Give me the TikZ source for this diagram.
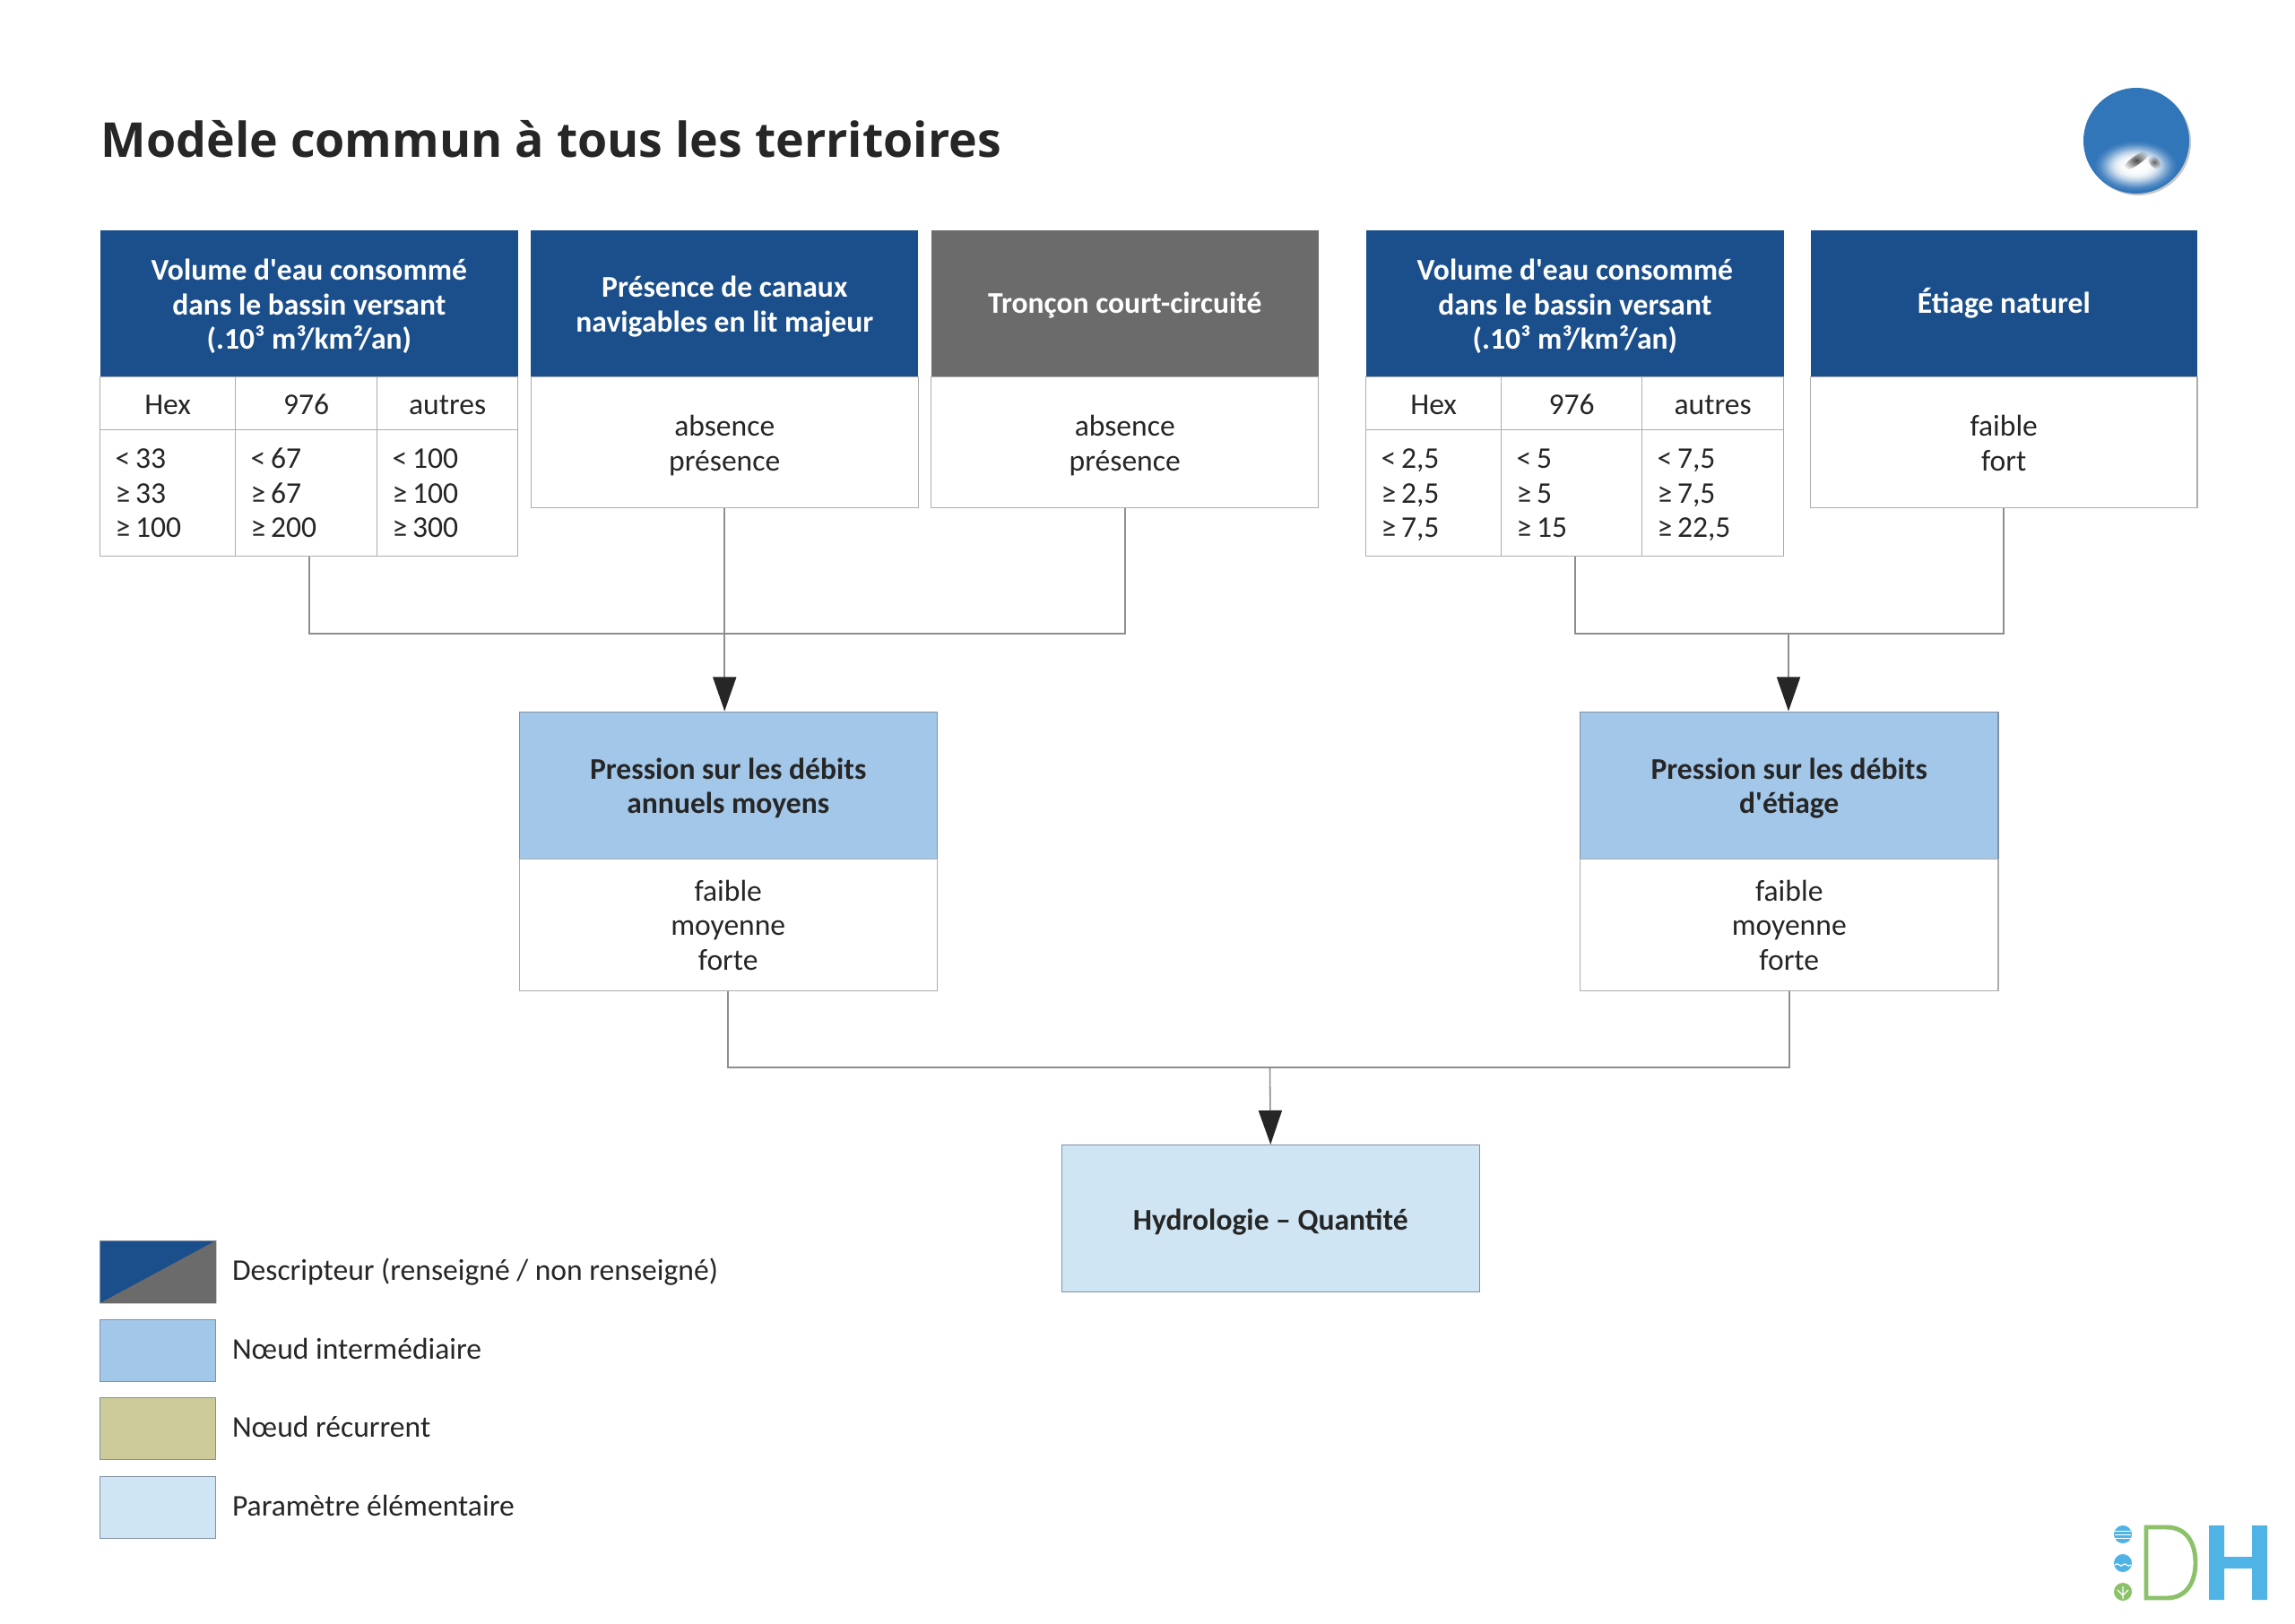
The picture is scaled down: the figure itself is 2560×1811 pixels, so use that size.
\documentclass[tikz,border=0pt]{standalone}
\usepackage{fontspec}
\setmainfont{Carlito}[Ligatures=TeXOff]
\newfontfamily\titlefont{Open Sans}
\usetikzlibrary{arrows.meta, positioning, calc, fadings}
\definecolor{descc}{HTML}{1B4F8B}
\definecolor{nonc}{HTML}{6B6B6B}
\definecolor{interc}{HTML}{A2C7E9}
\definecolor{recc}{HTML}{CDCB9A}
\definecolor{paramc}{HTML}{D0E5F3}
\definecolor{linec}{HTML}{8E8E8E}
\definecolor{cellc}{HTML}{ADADAD}
\definecolor{edgec}{HTML}{7F92A6}
\definecolor{txtc}{HTML}{262626}
\definecolor{discc}{HTML}{3276BA}
\definecolor{greenc}{HTML}{8BC169}
\definecolor{cyanc}{HTML}{4FB3E6}
\tikzfading[name=softblob, inner color=transparent!0, outer color=transparent!100]
\newcommand{\topstr}[1]{\rule{0pt}{#1}}
\newcommand{\botstr}[1]{\rule[-#1]{0pt}{#1}}
\newcommand{\fl}{\rule{0pt}{9.8pt}}

\begin{document}
\begin{tikzpicture}[x=0.01cm, y=-0.01cm, text=txtc,
          font=\fontsize{9.55}{10.95}\selectfont,
          >={Stealth[length=0.38cm, width=0.26cm, inset=0pt, color=txtc]},
          st/.style={execute at begin node=\topstr{10pt}, execute at end node=\botstr{2.84pt}},
          up/.style={execute at end node=\botstr{3.74pt}},
          hd/.style={st, rectangle, anchor=north west, fill=#1, minimum height=1.64cm, inner sep=0pt, align=center, text=white, font=\fontsize{9.55}{10.95}\selectfont\bfseries},
          body/.style={st, rectangle, anchor=north west, draw=cellc, fill=white, line width=0.35pt, minimum height=#1, inner sep=0pt, align=center},
          chead/.style={st, rectangle, anchor=north west, draw=cellc, line width=0.35pt, minimum height=0.59cm, inner sep=0pt},
          cval/.style={rectangle, anchor=north west, draw=cellc, line width=0.35pt, minimum height=1.41cm, inner xsep=0.17cm, inner ysep=0pt, text width=#1, align=left, execute at begin node={\spaceskip=0.17em\topstr{10pt}}, execute at end node=\botstr{3.76pt}},
          nd/.style={st, rectangle, anchor=north west, draw=edgec, fill=#1, line width=0.35pt, minimum width=4.66cm, minimum height=1.64cm, inner sep=0pt, align=center, font=\fontsize{9.55}{10.95}\selectfont\bfseries},
          sw/.style={rectangle, anchor=north west, draw=edgec, fill=#1, line width=0.35pt, minimum width=1.29cm, minimum height=0.69cm, inner sep=0pt},
          ln/.style={linec, line width=0.45pt},
          ar/.style={->, linec, line width=0.45pt}]
        \useasboundingbox (1,0) rectangle (2561,1811);
        \node[anchor=base west, inner sep=0pt, font=\titlefont\fontsize{15.26}{20}\selectfont\bfseries] (titre) at (113,175) {Modèle commun à tous les territoires};

        \node[hd=descc, minimum width=4.66cm] (vol1) at (112,256) {\fl Volume d'eau consommé\\dans le bassin versant\\(.10³ m³/km²/an)};
        \node[chead, minimum width=1.51cm] (hex1) at (112,420) {Hex};
        \node[chead, minimum width=1.58cm] (dom1) at (263,420) {976};
        \node[chead, minimum width=1.57cm] (aut1) at (421,420) {autres};
        \node[cval=1.17cm] (vhex1) at (112,479) {< 33\\≥ 33\\≥ 100};
        \node[cval=1.24cm] (vdom1) at (263,479) {< 67\\≥ 67\\≥ 200};
        \node[cval=1.23cm] (vaut1) at (421,479) {< 100\\≥ 100\\≥ 300};

        \node[hd=descc, minimum width=4.32cm] (can) at (592.5,256) {\fl Présence de canaux\\navigables en lit majeur};
        \node[body=1.46cm, minimum width=4.32cm] (vcan) at (592.5,420) {\fl absence\\présence};
        \node[hd=nonc, up, minimum width=4.32cm] (tron) at (1039,256) {Tronçon court-circuité};
        \node[body=1.46cm, minimum width=4.32cm] (vtron) at (1039,420) {\fl absence\\présence};

        \node[hd=descc, minimum width=4.66cm] (vol2) at (1524,256) {\fl Volume d'eau consommé\\dans le bassin versant\\(.10³ m³/km²/an)};
        \node[chead, minimum width=1.51cm] (hex2) at (1524,420) {Hex};
        \node[chead, minimum width=1.57cm] (dom2) at (1675,420) {976};
        \node[chead, minimum width=1.58cm] (aut2) at (1832,420) {autres};
        \node[cval=1.17cm] (vhex2) at (1524,479) {< 2,5\\≥ 2,5\\≥ 7,5};
        \node[cval=1.23cm] (vdom2) at (1675,479) {< 5\\≥ 5\\≥ 15};
        \node[cval=1.24cm] (vaut2) at (1832,479) {< 7,5\\≥ 7,5\\≥ 22,5};

        \node[hd=descc, up, minimum width=4.31cm] (eti) at (2020,256) {Étiage naturel};
        \node[body=1.46cm, minimum width=4.31cm] (veti) at (2020,420) {\fl faible\\fort};

        \node[nd=interc] (pam) at (579.5,793.5) {\fl Pression sur les débits\\annuels moyens};
        \node[body=1.47cm, minimum width=4.66cm] (vpam) at (579.5,957.5) {\fl faible\\moyenne\\forte};
        \node[nd=interc] (pet) at (1763,793.5) {\fl Pression sur les débits\\d'étiage};
        \node[body=1.47cm, minimum width=4.66cm] (vpet) at (1763,957.5) {\fl faible\\moyenne\\forte};
        \node[nd=paramc] (hyd) at (1184.5,1277) {Hydrologie – Quantité};

        \coordinate (j1) at (808.5,707); \coordinate (j2) at (1996,707); \coordinate (j3) at (1417.5,1191);
        \draw[ln] (vdom1.south -| vol1.south) |- (j1); \draw[ln] (vtron.south) |- (j1); \draw[ar] (vcan.south) -- (vcan.south |- pam.north);
        \draw[ln] (vdom2.south -| vol2.south) |- (j2); \draw[ln] (veti.south) |- (j2); \draw[ar] (j2) -- (j2 |- pet.north);
        \draw[ln] (vpam.south) |- (j3); \draw[ln] (vpet.south) |- (j3); \draw[ar] (j3) -- (hyd.north);

        \foreach \i/\yy/\cc/\tt in {1/1384/descc/{Descripteur (renseigné / non renseigné)}, 2/1472/interc/{Nœud intermédiaire}, 3/1559/recc/{Nœud récurrent}, 4/1647/paramc/{Paramètre élémentaire}}{
          \node[sw=\cc] (leg\i) at (112,\yy) {};
          \node[anchor=west, inner sep=0pt, xshift=0.17cm, yshift=-0.015cm] (lab\i) at (leg\i.east) {\strut\tt};
        }
        \fill[nonc] (leg1.north east) -- (leg1.south east) -- (leg1.south west) -- cycle;

        \fill[black!22] (2386,159) circle (59);
        \fill[discc] (2384,157) circle (59);
        \foreach \ea/\eb in {46/28, 40/24, 34/19, 28/14}{ \fill[white, path fading=softblob] (2383,185) ellipse ({\ea} and {\eb}); }
        \fill[black!70, path fading=softblob, rotate around={35:(2384,179)}] (2384,179) ellipse (18 and 5);
        \fill[black!60, path fading=softblob, rotate around={-50:(2404,181)}] (2404,181) ellipse (10 and 5);

        \fill[cyanc] (2369,1712) circle (10); \fill[cyanc] (2369,1744) circle (10); \fill[greenc] (2369,1776) circle (10);
        \foreach \yy in {1708,1712,1716}{ \draw[white, line width=0.25pt] (2360,\yy) -- (2378,\yy); }
        \draw[white, line width=0.35pt] (2360,1746) .. controls (2364,1742) and (2366,1750) .. (2369,1746) .. controls (2372,1742) and (2374,1750) .. (2378,1746);
        \draw[white, line width=0.35pt] (2369,1784) -- (2369,1770) (2369,1780) -- (2363,1774) (2369,1780) -- (2375,1774);
        \draw[greenc, line width=1.4pt] (2395,1704) -- (2418,1704) .. controls (2440,1704) and (2450,1722) .. (2450,1743.5) .. controls (2450,1765) and (2440,1783) .. (2418,1783) -- (2395,1783) -- cycle;
        \fill[cyanc] (2465,1702) rectangle (2482,1785) (2513,1702) rectangle (2530,1785) (2482,1737) rectangle (2513,1750);
\end{tikzpicture}
\end{document}
